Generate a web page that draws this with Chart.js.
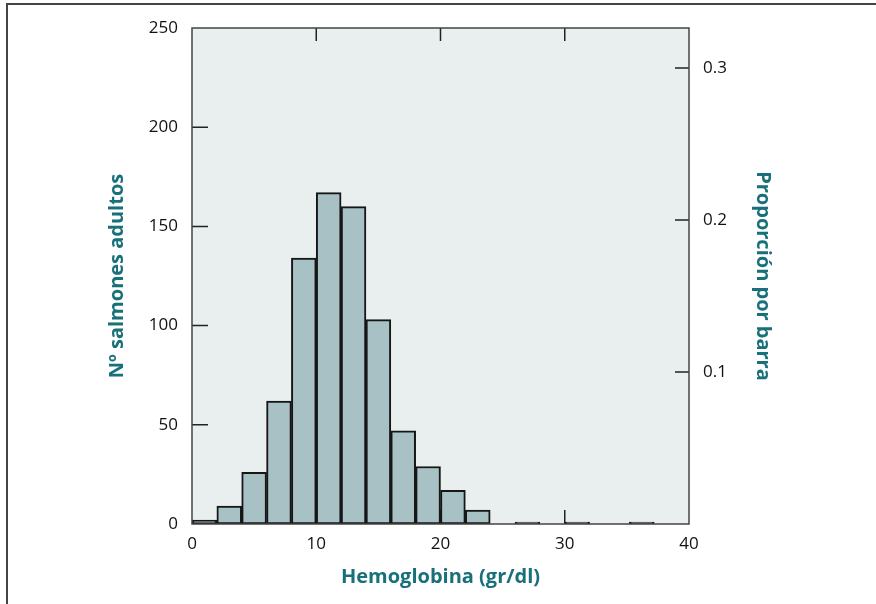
<!DOCTYPE html>
<html>
<head>
<meta charset="utf-8">
<script src="https://cdn.jsdelivr.net/npm/chart.js@4"></script>
<style>
  body { margin: 0; background: #fff; }
  #marco { position: absolute; left: 6px; top: 3px; width: 900px; height: 640px;
           border-top: 2px solid #444; border-left: 2px solid #444; }
  #grafico { position: absolute; left: 0; top: 0; }
</style>
</head>
<body>
<div id="marco"></div>
<canvas id="grafico" width="876" height="604"></canvas>
<script>
// inicio de cada barra (gr/dl) y numero de salmones
const inicios = [0, 2, 4, 6, 8, 10, 12, 14, 16, 18, 20, 22, 26, 30, 35.2];
const conteos = [2, 9, 26, 62, 134, 167, 160, 103, 47, 29, 17, 7, 1, 1, 1];
const anchoBarra = 2;

const ticksX = [10, 20, 30];
const ticksY = [50, 100, 150, 200];
const ticksProp = [0.1, 0.2, 0.3];

const total = conteos.reduce((a, b) => a + b, 0);
const datos = inicios.map((x, i) => ({ x: x + anchoBarra / 2, y: conteos[i] }));

const colorTitulo = '#17707a';
const fuente = "'Open Sans', 'Noto Sans', sans-serif";

// fondo y marco del area, marcas hacia dentro
const marcoPlugin = {
  id: 'marcoPlugin',
  beforeDatasetsDraw(chart) {
    const { ctx, chartArea: a, scales } = chart;
    ctx.save();
    ctx.fillStyle = '#e9eeee';
    ctx.fillRect(a.left, a.top, a.right - a.left, a.bottom - a.top);
    ctx.strokeStyle = '#222';
    ctx.lineWidth = 1.5;
    ctx.beginPath();
    ticksX.forEach(v => {
      const px = scales.x.getPixelForValue(v);
      ctx.moveTo(px, a.top); ctx.lineTo(px, a.top + 13);
      ctx.moveTo(px, a.bottom); ctx.lineTo(px, a.bottom - 14);
    });
    ticksY.forEach(v => {
      const py = scales.y.getPixelForValue(v);
      ctx.moveTo(a.left, py); ctx.lineTo(a.left + 16, py);
    });
    ticksProp.forEach(v => {
      const py = scales.y1.getPixelForValue(v);
      ctx.moveTo(a.right, py); ctx.lineTo(a.right - 14, py);
    });
    ctx.stroke();
    ctx.restore();
  },
  afterDatasetsDraw(chart) {
    const { ctx, chartArea: a } = chart;
    ctx.save();
    ctx.strokeStyle = '#444';
    ctx.lineWidth = 1.5;
    ctx.strokeRect(a.left, a.top, a.right - a.left, a.bottom - a.top);
    ctx.restore();
  }
};

const fuenteTicks = { family: fuente, size: 17 };
const fuenteTitulo = { family: fuente, size: 20, weight: 'bold' };

new Chart(document.getElementById('grafico'), {
  type: 'bar',
  data: {
    datasets: [{
      data: datos,
      backgroundColor: '#a8c1c5',
      borderColor: '#161616',
      borderWidth: 2,
      borderSkipped: false,
      barPercentage: 1,
      categoryPercentage: 1,
      yAxisID: 'y'
    }]
  },
  options: {
    responsive: false,
    animation: false,
    layout: { padding: { top: 28, left: 0, right: 0, bottom: 0 } },
    plugins: { legend: { display: false }, tooltip: { enabled: false } },
    scales: {
      x: {
        type: 'linear',
        min: 0, max: 40,
        offset: false,
        grid: { display: false, offset: false, drawTicks: false },
        border: { display: false },
        ticks: { stepSize: 10, padding: 10, color: '#111', font: fuenteTicks },
        title: { display: true, text: 'Hemoglobina (gr/dl)', color: colorTitulo,
                 font: fuenteTitulo, padding: { top: 0, bottom: 15 } },
        afterFit: s => { s.height = 80; }
      },
      y: {
        position: 'left',
        min: 0, max: 250,
        grid: { display: false, drawTicks: false },
        border: { display: false },
        ticks: { stepSize: 50, padding: 14, color: '#111', font: fuenteTicks },
        title: { display: true, text: 'Nº salmones adultos', color: colorTitulo,
                 font: fuenteTitulo, padding: { top: 105, bottom: 0 } },
        afterFit: s => { s.width = 192; }
      },
      y1: {
        position: 'right',
        min: 0, max: 250 / total,
        grid: { display: false, drawTicks: false },
        border: { display: false },
        ticks: {
          stepSize: 0.1, includeBounds: false, padding: 14, color: '#111',
          font: fuenteTicks,
          callback: v => (v === 0 ? '' : v.toFixed(1))
        },
        title: { display: true, text: 'Proporción por barra', color: colorTitulo,
                 font: fuenteTitulo, padding: { top: 101, bottom: 0 } },
        afterFit: s => { s.width = 187; }
      }
    }
  },
  plugins: [marcoPlugin]
});
</script>
</body>
</html>
